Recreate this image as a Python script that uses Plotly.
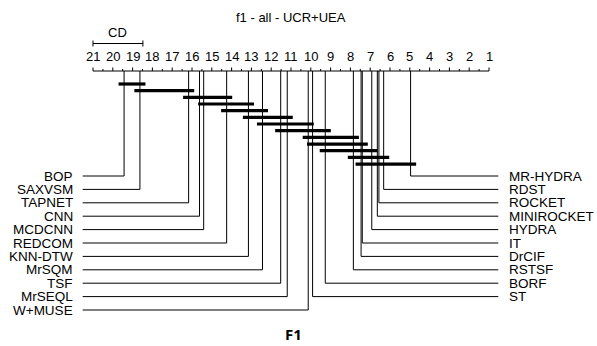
import plotly.graph_objects as go

title = "f1 - all - UCR+UEA"
subtitle = "F1"
methods = ["BOP", "SAXVSM", "TAPNET", "CNN", "MCDCNN", "REDCOM", "KNN-DTW", "MrSQM",
           "TSF", "MrSEQL", "W+MUSE", "ST", "BORF", "RSTSF", "DrCIF", "IT", "HYDRA",
           "MINIROCKET", "ROCKET", "RDST", "MR-HYDRA"]
avg_ranks = [19.43, 18.63, 16.17, 15.62, 15.41, 14.25, 13.15, 12.44, 11.52, 11.19, 10.13,
             9.91, 9.27, 7.85, 7.46, 7.40, 6.92, 6.64, 6.56, 6.32, 4.96]
cd_value = 2.52
cliques = [["BOP", "SAXVSM"], ["SAXVSM", "TAPNET"], ["TAPNET", "REDCOM"], ["MCDCNN", "KNN-DTW"],
           ["REDCOM", "MrSQM"], ["KNN-DTW", "MrSEQL"], ["MrSQM", "W+MUSE"], ["TSF", "BORF"],
           ["W+MUSE", "RSTSF"], ["ST", "IT"], ["BORF", "HYDRA"], ["RSTSF", "RDST"],
           ["DrCIF", "MR-HYDRA"]]
n_methods = len(methods)
tick_vals = list(range(n_methods, 0, -1))

W, H = 597, 346
px_per_rank = 19.8
left_px = 93
x_lo = n_methods + left_px / px_per_rank
x_hi = x_lo - W / px_per_rank

AX_Y = 71
FONT = "Liberation Sans, Arial, sans-serif"
rank_of = dict(zip(methods, avg_ranks))

fig = go.Figure()

def line(xs, ys, w=1.0, color="black"):
    fig.add_trace(go.Scatter(x=xs, y=ys, mode="lines", line=dict(color=color, width=w),
                             hoverinfo="skip", showlegend=False))

# axis line
line([n_methods, 1], [AX_Y, AX_Y], 1.0)
# ticks
tx, ty = [], []
v = float(n_methods)
while v >= 1 - 1e-9:
    major = abs(v - round(v)) < 1e-9
    tx += [v, v, None]
    ty += [AX_Y, AX_Y - (3.5 if major else 2), None]
    v -= 0.5
line(tx, ty, 1.0)

annotations = []
for t in tick_vals:
    annotations.append(dict(x=t, y=56, text=str(t), showarrow=False, xanchor="center",
                            yanchor="middle", font=dict(family=FONT, size=13, color="black")))

# CD bar
cd_y = 43.5
line([n_methods, n_methods - cd_value], [cd_y, cd_y], 1.0)
line([n_methods, n_methods, None, n_methods - cd_value, n_methods - cd_value],
     [cd_y - 3, cd_y + 3, None, cd_y - 3, cd_y + 3], 1.0)
annotations.append(dict(x=n_methods - cd_value / 2, y=32, text="CD", showarrow=False,
                        font=dict(family=FONT, size=13, color="black")))

# title
annotations.append(dict(x=(n_methods + 1) / 2, y=17, text=title, showarrow=False,
                        font=dict(family=FONT, size=13, color="black")))
annotations.append(dict(x=(n_methods + 1) / 2 - 0.15, y=334, text="<b>" + subtitle + "</b>",
                        showarrow=False, font=dict(family="Open Sans, sans-serif", size=15, color="black")))

# method lines
row0, row_step = 176, 13.4
order = sorted(range(n_methods), key=lambda i: -avg_ranks[i])
n_left = (n_methods + 1) // 2
left_idx = order[:n_left]
right_idx = sorted(order[n_left:], key=lambda i: avg_ranks[i])
for k, i in enumerate(left_idx):
    r = avg_ranks[i]
    y = row0 + row_step * k
    line([r, r, n_methods + 0.52], [AX_Y, y, y], 1.0)
    annotations.append(dict(x=n_methods + 0.95, y=y, text=methods[i], showarrow=False,
                            xanchor="right", yanchor="middle", borderpad=0,
                            font=dict(family=FONT, size=13.5, color="black")))
for k, i in enumerate(right_idx):
    r = avg_ranks[i]
    y = row0 + row_step * k
    line([r, r, 1 - 0.47], [AX_Y, y, y], 1.0)
    annotations.append(dict(x=0.05, y=y, text=methods[i], showarrow=False,
                            xanchor="left", yanchor="middle", borderpad=0,
                            font=dict(family=FONT, size=13.5, color="black")))

# cliques
clq_y0, clq_step = 84, 6.67
ext = 0.28
for k, (a, b) in enumerate(cliques):
    ra, rb = rank_of[a], rank_of[b]
    y = clq_y0 + clq_step * k
    line([max(ra, rb) + ext, min(ra, rb) - ext], [y, y], 3.2)

fig.update_layout(
    width=W, height=H, margin=dict(l=0, r=0, t=0, b=0),
    plot_bgcolor="white", paper_bgcolor="white",
    xaxis=dict(range=[x_lo, x_hi], visible=False, fixedrange=True),
    yaxis=dict(range=[H, 0], visible=False, fixedrange=True),
    annotations=annotations, hovermode=False, showlegend=False,
)
fig.write_html("out.html")
